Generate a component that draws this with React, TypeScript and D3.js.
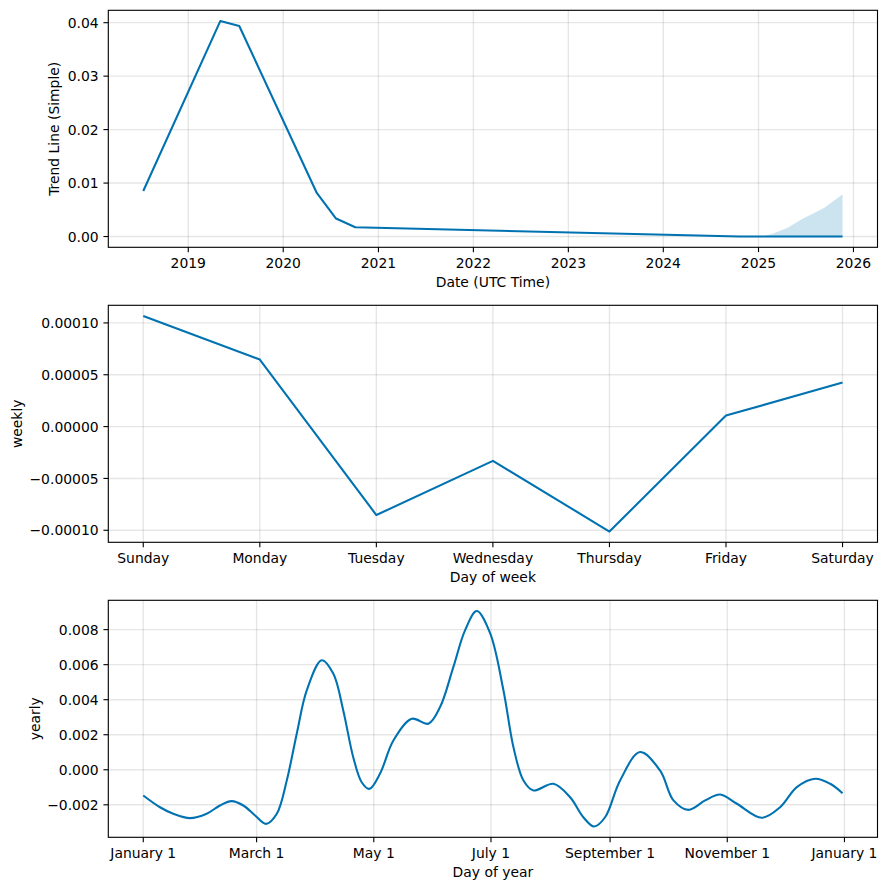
import React from "react";
import * as d3 from "d3";

// ---------- data ----------
const TREND_DATES = ["2018-07-12", "2019-05-04", "2019-07-16", "2020-05-09", "2020-07-22", "2020-10-04", "2024-10-20", "2025-11-20"];
const TREND_VALUES = [0.00852, 0.0403, 0.03937, 0.00815, 0.00336, 0.00174, 0.0, 0.0];

const BAND_DATES = ["2024-10-20", "2025-01-14", "2025-02-27", "2025-04-25", "2025-06-16", "2025-07-30", "2025-09-13", "2025-10-15", "2025-11-20"];
const BAND_UPPER = [0, 0.00002, 0.00056, 0.00168, 0.00323, 0.0043, 0.00542, 0.0066, 0.00785];
const BAND_LOWER = [0, 0, 0, 0, 0, 0, 0, 0, 0];

const TREND_YEAR_TICKS = [2019, 2020, 2021, 2022, 2023, 2024, 2025, 2026];
const TREND_Y_TICKS = [0, 0.01, 0.02, 0.03, 0.04];

const WEEKDAYS = ["Sunday", "Monday", "Tuesday", "Wednesday", "Thursday", "Friday", "Saturday"];
const WEEKLY_VALUES = [0.0001066, 0.0000647, -0.0000853, -0.0000331, -0.0001012, 0.0000106, 0.0000425];
const WEEKLY_Y_TICKS = [-0.0001, -0.00005, 0, 0.00005, 0.0001];

const YEARLY_DAYS = [
  0, 8.7, 15.6, 24.3, 33.0, 39.9, 46.0, 52.1, 58.2, 63.9, 69.5, 74.7, 79.9, 85.1, 92.9, 98.9, 104.1, 109.3, 113.7, 117.7,
  123.2, 130.2, 139.8, 148.4, 154.5, 161.4, 167.5, 173.6, 180.5, 187.5, 192.7, 197.9, 203.1, 213.5, 222.2, 229.1, 234.7,
  240.4, 248.2, 258.6, 269.0, 276.0, 283.8, 292.5, 300.3, 309.0, 322.0, 331.5, 340.2, 349.8, 357.6, 364,
];
const YEARLY_VALUES = [
  -0.00147, -0.00214, -0.00251, -0.00276, -0.00251, -0.00204, -0.00179, -0.00204, -0.00261, -0.00309, -0.00251, -0.00061,
  0.00206, 0.00453, 0.00625, 0.00549, 0.00339, 0.00072, -0.00071, -0.00109, -0.00023, 0.00167, 0.00291, 0.00263, 0.00358,
  0.00586, 0.00796, 0.00906, 0.00781, 0.00453, 0.00129, -0.00061, -0.00118, -0.0008, -0.00157, -0.00271, -0.00324,
  -0.00271, -0.00061, 0.00101, -0.00004, -0.00175, -0.00229, -0.00175, -0.00141, -0.00194, -0.00274, -0.00214, -0.00099,
  -0.00051, -0.0008, -0.00134,
];
const YEARLY_TICK_DATES = ["2017-01-01", "2017-03-01", "2017-05-01", "2017-07-01", "2017-09-01", "2017-11-01", "2018-01-01"];
const YEARLY_TICK_LABELS = ["January 1", "March 1", "May 1", "July 1", "September 1", "November 1", "January 1"];
const YEARLY_Y_TICKS = [-0.002, 0, 0.002, 0.004, 0.006, 0.008];

// ---------- layout ----------
const W = 886, H = 890;
const LEFT = 108.3, RIGHT = 877.5;
const PANEL_TOPS = [10.3, 305.3, 600.3];
const PANEL_H = 237;
const FONT = "'DejaVu Sans', sans-serif";
const FS = 13.9;
const BLUE = "#0072B2";

function margin(lo: number, hi: number): [number, number] {
  const r = hi - lo;
  return [lo - 0.05 * r, hi + 0.05 * r];
}

type Tick = { pos: number; label: string };

function Panel(props: {
  top: number;
  xTicks: Tick[];
  yTicks: Tick[];
  xLabel: string;
  yLabel: string;
  yLabelX: number;
  children: React.ReactNode;
}) {
  const { top, xTicks, yTicks, xLabel, yLabel, yLabelX, children } = props;
  const bottom = top + PANEL_H;
  const tickLen = 4.86;
  const cx = (LEFT + RIGHT) / 2;
  const cy = (top + bottom) / 2;
  return (
    <g>
      {xTicks.map((t, i) => (
        <line key={"gx" + i} x1={t.pos} x2={t.pos} y1={top} y2={bottom} stroke="#808080" strokeOpacity={0.2} strokeWidth={1.39} />
      ))}
      {yTicks.map((t, i) => (
        <line key={"gy" + i} x1={LEFT} x2={RIGHT} y1={t.pos} y2={t.pos} stroke="#808080" strokeOpacity={0.2} strokeWidth={1.39} />
      ))}
      {children}
      <rect x={LEFT} y={top} width={RIGHT - LEFT} height={PANEL_H} fill="none" stroke="#000" strokeWidth={1.11} />
      {xTicks.map((t, i) => (
        <g key={"xt" + i}>
          <line x1={t.pos} x2={t.pos} y1={bottom} y2={bottom + tickLen} stroke="#000" strokeWidth={1.11} />
          <text x={t.pos} y={bottom + 20.5} textAnchor="middle" fontFamily={FONT} fontSize={FS} fill="#000">
            {t.label}
          </text>
        </g>
      ))}
      {yTicks.map((t, i) => (
        <g key={"yt" + i}>
          <line x1={LEFT - tickLen} x2={LEFT} y1={t.pos} y2={t.pos} stroke="#000" strokeWidth={1.11} />
          <text x={LEFT - tickLen - 4.86} y={t.pos} dy="0.365em" textAnchor="end" fontFamily={FONT} fontSize={FS} fill="#000">
            {t.label}
          </text>
        </g>
      ))}
      <text x={cx} y={bottom + 40} textAnchor="middle" fontFamily={FONT} fontSize={FS} fill="#000">
        {xLabel}
      </text>
      <text transform={`translate(${yLabelX},${cy}) rotate(-90)`} textAnchor="middle" fontFamily={FONT} fontSize={FS} fill="#000">
        {yLabel}
      </text>
    </g>
  );
}

export default function App() {
  const parse = d3.utcParse("%Y-%m-%d");

  // ----- panel 1: trend -----
  const tDates = TREND_DATES.map((d) => parse(d) as Date);
  const bDates = BAND_DATES.map((d) => parse(d) as Date);
  const t0 = +tDates[0], t1 = +tDates[tDates.length - 1];
  const [tx0, tx1] = margin(t0, t1);
  const x1 = d3.scaleUtc().domain([new Date(tx0), new Date(tx1)]).range([LEFT, RIGHT]);
  const y1min = Math.min(d3.min(TREND_VALUES)!, d3.min(BAND_LOWER)!);
  const y1max = Math.max(d3.max(TREND_VALUES)!, d3.max(BAND_UPPER)!);
  const y1 = d3.scaleLinear().domain(margin(y1min, y1max)).range([PANEL_TOPS[0] + PANEL_H, PANEL_TOPS[0]]);
  const trendLine = d3.line<number>().x((_, i) => x1(tDates[i])).y((v) => y1(v))(TREND_VALUES) || "";
  const bandArea =
    d3
      .area<number>()
      .x((_, i) => x1(bDates[i]))
      .y0((_, i) => y1(BAND_LOWER[i]))
      .y1((v) => y1(v))(BAND_UPPER) || "";
  const f2 = d3.format(".2f");
  const p1x: Tick[] = TREND_YEAR_TICKS.map((yr) => ({ pos: x1(new Date(Date.UTC(yr, 0, 1))), label: String(yr) }));
  const p1y: Tick[] = TREND_Y_TICKS.map((v) => ({ pos: y1(v), label: f2(v) }));

  // ----- panel 2: weekly -----
  const x2 = d3.scaleLinear().domain(margin(0, WEEKDAYS.length - 1)).range([LEFT, RIGHT]);
  const y2 = d3
    .scaleLinear()
    .domain(margin(d3.min(WEEKLY_VALUES)!, d3.max(WEEKLY_VALUES)!))
    .range([PANEL_TOPS[1] + PANEL_H, PANEL_TOPS[1]]);
  const weeklyLine = d3.line<number>().x((_, i) => x2(i)).y((v) => y2(v))(WEEKLY_VALUES) || "";
  const f5 = d3.format(".5f");
  const p2x: Tick[] = WEEKDAYS.map((d, i) => ({ pos: x2(i), label: d }));
  const p2y: Tick[] = WEEKLY_Y_TICKS.map((v) => ({ pos: y2(v), label: f5(v) }));

  // ----- panel 3: yearly -----
  const yStart = parse("2017-01-01") as Date;
  const yDates = YEARLY_DAYS.map((d) => new Date(+yStart + d * 86400000));
  const [yx0, yx1] = margin(+yStart, +yStart + 364 * 86400000);
  const x3 = d3.scaleUtc().domain([new Date(yx0), new Date(yx1)]).range([LEFT, RIGHT]);
  const y3 = d3
    .scaleLinear()
    .domain(margin(d3.min(YEARLY_VALUES)!, d3.max(YEARLY_VALUES)!))
    .range([PANEL_TOPS[2] + PANEL_H, PANEL_TOPS[2]]);
  const yearlyLine =
    d3
      .line<number>()
      .curve(d3.curveCatmullRom.alpha(0.5))
      .x((_, i) => x3(yDates[i]))
      .y((v) => y3(v))(YEARLY_VALUES) || "";
  const f3 = d3.format(".3f");
  const p3x: Tick[] = YEARLY_TICK_DATES.map((d, i) => ({ pos: x3(parse(d) as Date), label: YEARLY_TICK_LABELS[i] }));
  const p3y: Tick[] = YEARLY_Y_TICKS.map((v) => ({ pos: y3(v), label: f3(v) }));

  return (
    <svg width={W} height={H} style={{ position: "absolute", left: 0, top: 0, background: "#fff" }}>
      <rect x={0} y={0} width={W} height={H} fill="#fff" />
      <Panel top={PANEL_TOPS[0]} xTicks={p1x} yTicks={p1y} xLabel="Date (UTC Time)" yLabel="Trend Line (Simple)" yLabelX={59}>
        <path d={bandArea} fill={BLUE} fillOpacity={0.2} stroke="none" />
        <path d={trendLine} fill="none" stroke={BLUE} strokeWidth={2.08} strokeLinejoin="round" />
      </Panel>
      <Panel top={PANEL_TOPS[1]} xTicks={p2x} yTicks={p2y} xLabel="Day of week" yLabel="weekly" yLabelX={22}>
        <path d={weeklyLine} fill="none" stroke={BLUE} strokeWidth={2.08} strokeLinejoin="round" />
      </Panel>
      <Panel top={PANEL_TOPS[2]} xTicks={p3x} yTicks={p3y} xLabel="Day of year" yLabel="yearly" yLabelX={39.5}>
        <path d={yearlyLine} fill="none" stroke={BLUE} strokeWidth={2.08} strokeLinejoin="round" />
      </Panel>
    </svg>
  );
}
